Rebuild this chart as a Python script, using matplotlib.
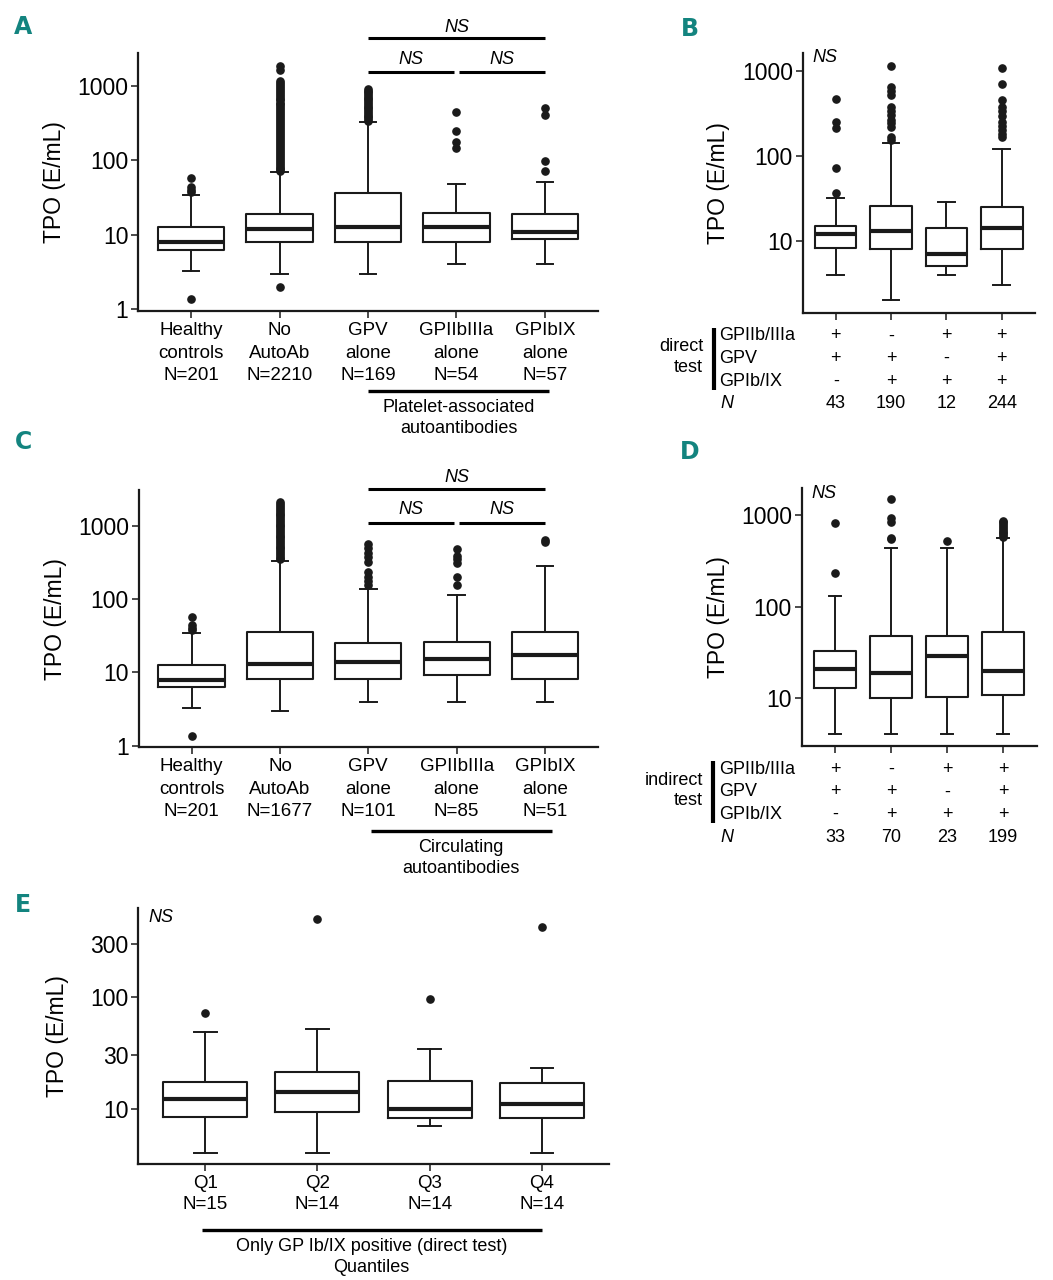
import matplotlib
matplotlib.use('Agg')
import matplotlib.pyplot as plt
from matplotlib.lines import Line2D
from matplotlib.ticker import NullLocator
from matplotlib.transforms import blended_transform_factory

plt.rcParams['font.family'] = ['Liberation Sans', 'DejaVu Sans']

W, H = 1053, 1280
TEAL = '#13847f'
INK = '#1a1a1a'

# Panel A: platelet-associated autoantibodies
a_labels = ['Healthy\ncontrols\nN=201', 'No\nAutoAb\nN=2210', 'GPV\nalone\nN=169',
            'GPIIbIIIa\nalone\nN=54', 'GPIbIX\nalone\nN=57']
a_q1 = [6.3, 8.0, 8.0, 8.0, 8.9]
a_med = [7.96, 12.1, 12.9, 12.9, 11.0]
a_q3 = [12.6, 19.2, 36.2, 19.8, 19.2]
a_lo = [3.23, 3.0, 3.0, 4.02, 4.02]
a_hi = [34.7, 69.5, 327, 48.4, 52]
a_fliers = [
    [1.36, 37.8, 40, 44, 57.6],
    [2.02, 72, 76, 80, 85, 90, 96, 102, 108, 115, 122, 130, 138, 147, 156, 166, 176,
     187, 199, 212, 225, 240, 255, 271, 288, 306, 326, 346, 368, 392, 416, 443, 471,
     500, 532, 566, 601, 640, 680, 723, 769, 818, 870, 925, 983, 1045, 1112, 1182,
     1640, 1870],
    [340, 360, 380, 400, 425, 450, 475, 500, 530, 560, 590, 625, 660, 700, 740, 785,
     830, 870, 905],
    [147, 175, 249, 446],
    [72.5, 97, 414, 509],
]

# Panel B: direct test combinations
b_q1 = [8.3, 8.1, 5.06, 8.1]
b_med = [12.1, 13.1, 7.05, 14.1]
b_q3 = [15.1, 25.8, 14.4, 24.9]
b_lo = [4.0, 2.03, 4.0, 3.03]
b_hi = [32, 143, 29, 119]
b_fliers = [
    [37, 72, 212, 252, 467],
    [155, 166, 218, 243, 266, 298, 335, 370, 520, 585, 650, 1120],
    [],
    [166, 182, 199, 222, 251, 292, 332, 370, 447, 698, 1080],
]
b_gp2b3a = ['+', '-', '+', '+']
b_gpv = ['+', '+', '-', '+']
b_gp1b9 = ['-', '+', '+', '+']
b_n = ['43', '190', '12', '244']

# Panel C: circulating autoantibodies
c_labels = ['Healthy\ncontrols\nN=201', 'No\nAutoAb\nN=1677', 'GPV\nalone\nN=101',
            'GPIIbIIIa\nalone\nN=85', 'GPIbIX\nalone\nN=51']
c_q1 = [6.4, 8.1, 8.1, 9.1, 8.1]
c_med = [7.9, 13.1, 14.1, 15.2, 17.1]
c_q3 = [12.5, 35.9, 25.1, 26.2, 36.0]
c_lo = [3.3, 3.0, 4.0, 4.0, 4.0]
c_hi = [35, 337, 137, 115, 288]
c_fliers = [
    [1.36, 37.8, 40, 44, 57.6],
    [350, 370, 392, 415, 440, 466, 494, 523, 554, 587, 622, 659, 698, 740, 784, 830,
     880, 932, 988, 1046, 1108, 1175, 1245, 1319, 1397, 1480, 1568, 1661, 1760, 1865,
     1976, 2100],
    [157, 180, 204, 238, 326, 374, 424, 496, 568],
    [157, 204, 316, 351, 390, 485],
    [595, 645],
]

# Panel D: indirect test combinations
d_q1 = [13.1, 10.1, 10.4, 11.0]
d_med = [21.1, 19.1, 29.0, 20.0]
d_q3 = [32.8, 47.9, 48.3, 52.5]
d_lo = [4.05, 4.05, 4.05, 4.05]
d_hi = [132, 440, 440, 556]
d_fliers = [
    [235, 824],
    [543, 566, 846, 920, 1480],
    [525],
    [575, 600, 630, 660, 690, 720, 760, 800, 840, 860],
]
d_gp2b3a = ['+', '-', '+', '+']
d_gpv = ['+', '+', '-', '+']
d_gp1b9 = ['-', '+', '+', '+']
d_n = ['33', '70', '23', '199']

# Panel E: GP Ib/IX quantiles
e_labels = ['Q1\nN=15', 'Q2\nN=14', 'Q3\nN=14', 'Q4\nN=14']
e_q1 = [8.5, 9.3, 8.2, 8.2]
e_med = [12.1, 14.0, 10.0, 11.1]
e_q3 = [17.5, 21.2, 17.7, 16.9]
e_lo = [4.03, 4.03, 7.0, 4.03]
e_hi = [49, 52, 34, 23]
e_fliers = [[72], [499], [97], [423]]

fig = plt.figure(figsize=(W / 100, H / 100), dpi=100)


def fy(py):
    return 1 - py / H


def make_axes(left, top, right, bottom):
    return fig.add_axes([left / W, 1 - bottom / H, (right - left) / W, (bottom - top) / H])


def build_stats(q1, med, q3, lo, hi, fliers):
    return [dict(q1=a, med=b, q3=c, whislo=d, whishi=e, fliers=f)
            for a, b, c, d, e, f in zip(q1, med, q3, lo, hi, fliers)]


def draw_boxes(ax, stats, capw, ylim, yticks, labels=None, label_off=72, spacing=1.42):
    ax.set_yscale('log')
    ax.bxp(stats, positions=list(range(len(stats))), widths=0.75,
           capwidths=[capw] * len(stats), manage_ticks=False,
           boxprops=dict(color=INK, linewidth=1.5),
           medianprops=dict(color=INK, linewidth=3.0, solid_capstyle='butt'),
           whiskerprops=dict(color=INK, linewidth=1.4),
           capprops=dict(color=INK, linewidth=1.4),
           flierprops=dict(marker='o', markerfacecolor=INK, markeredgecolor=INK,
                           markersize=5.2, linestyle='none'))
    ax.set_xlim(-0.6, len(stats) - 0.4)
    ax.set_ylim(*ylim)
    ax.set_yticks(yticks, [str(t) for t in yticks])
    ax.yaxis.set_minor_locator(NullLocator())
    ax.set_xticks(range(len(stats)))
    ax.set_xticklabels(labels if labels else [''] * len(stats))
    plt.setp(ax.get_xticklabels(), linespacing=spacing)
    for s in ['top', 'right']:
        ax.spines[s].set_visible(False)
    for s in ['left', 'bottom']:
        ax.spines[s].set_linewidth(1.6)
        ax.spines[s].set_color(INK)
    ax.tick_params(axis='both', direction='out', length=5, width=1.1, color=INK)
    ax.tick_params(axis='y', labelsize=16.5, pad=2)
    ax.tick_params(axis='x', labelsize=13.5, pad=3)
    ax.set_ylabel('TPO (E/mL)', fontsize=16.5)
    width_px = ax.get_position().width * W
    ax.yaxis.set_label_coords(-label_off / width_px, 0.5)


def ns_bracket(ax, x0, x1, line_py, text_py):
    tr = blended_transform_factory(ax.transData, fig.transFigure)
    ax.plot([x0, x1], [fy(line_py)] * 2, transform=tr, color='black', lw=2.2,
            clip_on=False, solid_capstyle='butt')
    ax.text((x0 + x1) / 2, fy(text_py), 'NS', transform=tr, ha='center', va='center',
            style='italic', fontsize=13)


def group_label(ax, x0, x1, line_py, text, text_py, text_x):
    tr = blended_transform_factory(ax.transData, fig.transFigure)
    ax.plot([x0, x1], [fy(line_py)] * 2, transform=tr, color='black', lw=2.4,
            clip_on=False, solid_capstyle='butt')
    ax.text(text_x, fy(text_py), text, transform=tr, ha='center', va='center',
            fontsize=13, linespacing=1.25)


def test_table(ax, bottom_py, rows, counts, side_text, bar_x):
    tr = blended_transform_factory(ax.transData, fig.transFigure)
    offsets = [23.5, 46, 68.5]
    names = ['GPIIb/IIIa', 'GPV', 'GPIb/IX']
    for off, name, signs in zip(offsets, names, rows):
        fig.text(719 / W, fy(bottom_py + off), name, ha='left', va='center', fontsize=13)
        for i, s in enumerate(signs):
            ax.text(i, fy(bottom_py + off), s, transform=tr, ha='center', va='center',
                    fontsize=13)
    fig.text(720 / W, fy(bottom_py + 91), 'N', ha='left', va='center', fontsize=13,
             style='italic')
    for i, n in enumerate(counts):
        ax.text(i, fy(bottom_py + 91), n, transform=tr, ha='center', va='center',
                fontsize=13)
    fig.text(703 / W, fy(bottom_py + 44.5), side_text, ha='right', va='center',
             fontsize=13, multialignment='right', linespacing=1.25)
    fig.add_artist(Line2D([bar_x / W] * 2, [fy(bottom_py + 15), fy(bottom_py + 77)],
                          lw=3, color='black', solid_capstyle='butt'))


def panel_letter(x, y, letter):
    fig.text(x / W, fy(y), letter, color=TEAL, fontsize=17, fontweight='bold',
             family=['Liberation Sans Narrow', 'DejaVu Sans'], ha='center', va='center')


# A
ax_a = make_axes(138, 53, 598, 311)
draw_boxes(ax_a, build_stats(a_q1, a_med, a_q3, a_lo, a_hi, a_fliers), 0.19,
           (0.95, 2780), [1, 10, 100, 1000], a_labels)
ns_bracket(ax_a, 2, 4, 38.3, 27)
ns_bracket(ax_a, 2, 2.97, 71.7, 59)
ns_bracket(ax_a, 3.03, 4, 71.7, 59)
group_label(ax_a, 2, 4.05, 390.7, 'Platelet-associated\nautoantibodies', 418, 3.03)

# B
ax_b = make_axes(802.5, 53, 1035, 312.5)
draw_boxes(ax_b, build_stats(b_q1, b_med, b_q3, b_lo, b_hi, b_fliers), 0.3,
           (1.46, 1610), [10, 100, 1000])
fig.text(812.5 / W, fy(58), 'NS', ha='left', va='center', fontsize=13, style='italic')
test_table(ax_b, 312.5, [b_gp2b3a, b_gpv, b_gp1b9], b_n, 'direct\ntest', 713.7)

# C
ax_c = make_axes(138.6, 490, 598, 747.3)
draw_boxes(ax_c, build_stats(c_q1, c_med, c_q3, c_lo, c_hi, c_fliers), 0.19,
           (0.95, 3100), [1, 10, 100, 1000], c_labels)
ns_bracket(ax_c, 2, 4, 489.3, 477.7)
ns_bracket(ax_c, 2, 2.97, 522.7, 510)
ns_bracket(ax_c, 3.03, 4, 522.7, 510)
group_label(ax_c, 2.03, 4.08, 830.7, 'Circulating\nautoantibodies', 858, 3.05)

# D
ax_d = make_axes(801.7, 487.7, 1036.7, 746)
draw_boxes(ax_d, build_stats(d_q1, d_med, d_q3, d_lo, d_hi, d_fliers), 0.22,
           (3.02, 1990), [10, 100, 1000])
fig.text(811.7 / W, fy(493), 'NS', ha='left', va='center', fontsize=13, style='italic')
test_table(ax_d, 746, [d_gp2b3a, d_gpv, d_gp1b9], d_n, 'indirect\ntest', 713)

# E
ax_e = make_axes(138, 908.3, 609, 1164)
draw_boxes(ax_e, build_stats(e_q1, e_med, e_q3, e_lo, e_hi, e_fliers), 0.2,
           (3.19, 627), [10, 30, 100, 300], e_labels, label_off=69, spacing=1.3)
fig.text(148.7 / W, fy(918), 'NS', ha='left', va='center', fontsize=13, style='italic')
group_label(ax_e, -0.03, 3.0, 1230, 'Only GP Ib/IX positive (direct test)\nQuantiles',
            1257, 1.48)

panel_letter(23, 27, 'A')
panel_letter(690, 29, 'B')
panel_letter(23, 442, 'C')
panel_letter(690, 452, 'D')
panel_letter(23, 905, 'E')

fig.savefig('out.png', dpi=100)
